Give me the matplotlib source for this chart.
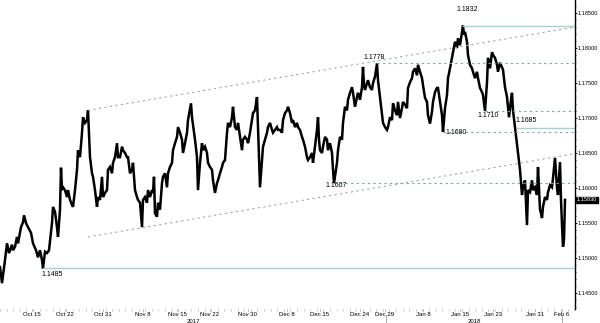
import matplotlib
matplotlib.use("Agg")
import matplotlib.pyplot as plt
from matplotlib.ticker import FixedLocator, MultipleLocator, FormatStrFormatter

plt.rcParams['font.family'] = ['Liberation Sans', 'DejaVu Sans']

# bar number -> price
bars = [0, 2, 5, 7, 9, 12, 13, 15, 17, 18, 21, 23, 24, 26, 28, 31, 33, 36, 38, 40, 42, 43, 45, 47, 49,
        52, 53, 55, 57, 58, 60, 61, 62, 63, 65, 67, 68, 70, 72, 73, 75, 77, 78, 80, 82, 83, 85, 87, 88,
        90, 92, 93, 95, 97,
        98, 100, 102, 103, 105, 107, 108, 110, 112, 113, 115, 117, 118, 120, 122, 123, 125, 127, 128,
        130, 132, 133, 135, 137, 138, 140, 142, 143, 145, 147, 148, 150, 152, 153, 154, 155, 157, 158,
        160, 162, 163, 165, 167, 168, 170, 172, 173, 175, 177, 178, 180, 182, 183, 185, 187, 188, 191,
        192, 194, 195, 197, 198,
        200, 202, 203, 205, 207, 208, 210, 212, 213, 215, 217, 218, 220, 222, 223, 225, 227, 228, 230,
        232, 233, 235, 237, 238, 240, 242, 243, 245, 247, 248, 250, 252, 253, 255, 257, 258, 260, 262,
        263, 265, 267, 268, 270, 272, 273, 275, 277, 278, 280, 282, 283, 285, 287, 288, 290, 292, 293,
        295, 297,
        298, 300, 302, 303, 305, 307, 308, 310, 312, 313, 315, 317, 318, 319, 320, 322, 323, 325, 327,
        328, 330, 332, 333, 334, 337, 338, 340, 342, 343, 345, 347, 348, 350, 352, 353, 355, 357, 358,
        360, 362, 363, 364, 365, 367, 368, 370, 372, 373, 375, 377, 378, 380, 382, 383, 385, 387, 388,
        390, 392, 393, 395,
        397, 398, 400, 402, 403, 405, 407, 408, 410, 412, 413, 415, 417, 418, 420, 422, 423, 425, 427,
        428, 430, 432, 433, 435, 437, 438, 440, 442, 443, 445, 447, 448, 450, 452, 453, 455, 457, 458,
        460, 462, 463, 464, 465, 467, 468, 470, 472, 473, 475, 477, 478, 480, 482, 483, 485, 487, 488,
        490, 492, 493, 495, 497, 498,
        500, 503, 505, 507, 508, 509, 511, 512, 513, 515, 517, 518, 520, 522, 523, 525, 527, 528, 530,
        532, 533, 535, 537, 538, 540, 541, 542, 543, 545, 547, 548, 550, 552, 553, 555, 557, 558, 560,
        561, 562, 563, 564, 565]

prices = [1.1487, 1.1464, 1.1497, 1.1521, 1.1507, 1.1519, 1.1511, 1.1516, 1.1530, 1.1521, 1.1544,
          1.1551, 1.1561, 1.1550, 1.1544, 1.1536, 1.1521, 1.1511, 1.1501, 1.1511, 1.1497, 1.1485,
          1.1509, 1.1507, 1.1511, 1.1550, 1.1573, 1.1566, 1.1544, 1.1530, 1.1569, 1.1629, 1.1597,
          1.1601, 1.1597, 1.1587, 1.1597, 1.1583, 1.1576, 1.1573, 1.1597, 1.1626, 1.1654, 1.1644,
          1.1679, 1.1701, 1.1693, 1.1697, 1.1711, 1.1644, 1.1621, 1.1616, 1.1597, 1.1573,
          1.1587, 1.1583, 1.1616, 1.1587, 1.1593, 1.1597, 1.1626, 1.1630, 1.1621, 1.1636, 1.1644,
          1.1664, 1.1644, 1.1644, 1.1659, 1.1654, 1.1650, 1.1644, 1.1644, 1.1621, 1.1626, 1.1636,
          1.1597, 1.1587, 1.1583, 1.1579, 1.1544, 1.1583, 1.1587, 1.1579, 1.1597, 1.1587, 1.1597,
          1.1593, 1.1616, 1.1564, 1.1559, 1.1579, 1.1569, 1.1607, 1.1616, 1.1621, 1.1601, 1.1621,
          1.1630, 1.1636, 1.1654, 1.1664, 1.1673, 1.1687, 1.1679, 1.1669, 1.1650, 1.1664, 1.1679,
          1.1697, 1.1721, 1.1701, 1.1679, 1.1669, 1.1644, 1.1597,
          1.1636, 1.1664, 1.1654, 1.1659, 1.1650, 1.1636, 1.1630, 1.1626, 1.1611, 1.1593, 1.1607,
          1.1611, 1.1621, 1.1630, 1.1636, 1.1640, 1.1679, 1.1693, 1.1687, 1.1701, 1.1716, 1.1687,
          1.1683, 1.1693, 1.1673, 1.1654, 1.1669, 1.1673, 1.1669, 1.1664, 1.1679, 1.1697, 1.1707,
          1.1711, 1.1730, 1.1687, 1.1601, 1.1640, 1.1659, 1.1669, 1.1679, 1.1687, 1.1693, 1.1683,
          1.1679, 1.1683, 1.1687, 1.1683, 1.1683, 1.1679, 1.1697, 1.1707, 1.1711, 1.1716, 1.1707,
          1.1693, 1.1697, 1.1687, 1.1693,
          1.1687, 1.1683, 1.1673, 1.1669, 1.1659, 1.1644, 1.1640, 1.1644, 1.1650, 1.1636, 1.1659,
          1.1683, 1.1701, 1.1669, 1.1654, 1.1650, 1.1659, 1.1673, 1.1669, 1.1654, 1.1664, 1.1650,
          1.1626, 1.1607, 1.1636, 1.1654, 1.1673, 1.1669, 1.1693, 1.1716, 1.1711, 1.1726, 1.1736,
          1.1744, 1.1736, 1.1716, 1.1730, 1.1736, 1.1726, 1.1744, 1.1773, 1.1747, 1.1740, 1.1750,
          1.1754, 1.1744, 1.1740, 1.1750, 1.1759, 1.1778, 1.1754, 1.1730, 1.1707, 1.1693, 1.1687,
          1.1683, 1.1687, 1.1701, 1.1697, 1.1721, 1.1711,
          1.1704, 1.1723, 1.1700, 1.1714, 1.1723, 1.1719, 1.1714, 1.1743, 1.1751, 1.1757, 1.1766,
          1.1771, 1.1761, 1.1776, 1.1766, 1.1757, 1.1747, 1.1729, 1.1723, 1.1704, 1.1692, 1.1709,
          1.1723, 1.1737, 1.1743, 1.1743, 1.1723, 1.1704, 1.1680, 1.1714, 1.1733, 1.1757, 1.1771,
          1.1786, 1.1794, 1.1809, 1.1800, 1.1814, 1.1804, 1.1823, 1.1832, 1.1819, 1.1823, 1.1809,
          1.1790, 1.1776, 1.1771, 1.1766, 1.1757, 1.1766, 1.1757, 1.1743, 1.1737, 1.1733, 1.1710,
          1.1751, 1.1786, 1.1771, 1.1794, 1.1790, 1.1786, 1.1776, 1.1766,
          1.1779, 1.1769, 1.1744, 1.1730, 1.1716, 1.1701, 1.1726, 1.1736, 1.1711, 1.1687, 1.1664,
          1.1650, 1.1626, 1.1590, 1.1601, 1.1611, 1.1547, 1.1597, 1.1594, 1.1611, 1.1597, 1.1601,
          1.1590, 1.1630, 1.1569, 1.1564, 1.1557, 1.1573, 1.1587, 1.1583, 1.1594, 1.1604, 1.1601,
          1.1614, 1.1643, 1.1600, 1.1590, 1.1637, 1.1583, 1.1547, 1.1516, 1.1526, 1.1583]

last_price = 1.1583

# support / resistance levels: (price, start bar, style)
level_prices = [1.1832, 1.1778, 1.1710, 1.1680, 1.1685, 1.1607, 1.1485]
level_starts = [463, 377, 485, 443, 517, 334, 43]
level_solid = [True, False, False, False, True, False, True]

# channel lines (start bar/price, end bar/price)
chan_x = [88, 575]
chan_upper = [1.1711, 1.1830]
chan_lower = [1.1530, 1.1649]

tick_bars = [32, 65, 103, 143, 177, 210, 248, 287, 320, 360, 385, 423, 460, 493, 535, 562]
tick_labels = ['Oct 15', 'Oct 22', 'Oct 31', 'Nov 8', 'Nov 15', 'Nov 22', 'Nov 30', 'Dec 8',
               'Dec 15', 'Dec 24', 'Dec 29', 'Jan 8', 'Jan 15', 'Jan 23', 'Jan 31', 'Feb 6']

solid_col = '#a3d4ca'
dash_col = '#7fa59e'

fig = plt.figure(figsize=(6, 3.23), dpi=100)
ax = fig.add_axes([0, 14 / 323, 575 / 600, 309 / 323])

ax.plot(bars, prices, color='black', lw=1.8, solid_joinstyle='miter')

for p, s, solid in zip(level_prices, level_starts, level_solid):
    if solid:
        ax.plot([s, 575], [p, p], color=solid_col, lw=1.0)
    else:
        ax.plot([s, 575], [p, p], color=dash_col, lw=0.8, dashes=(2, 3))

ax.plot(chan_x, chan_upper, color='#9aaaa8', lw=0.8, dashes=(2, 3))
ax.plot(chan_x, chan_lower, color='#9aaaa8', lw=0.8, dashes=(2, 3))

fs = 5
ax.text(467, 1.1855, '1.1832', fontsize=fs, ha='center', va='center')
ax.text(374, 1.1786, '1.1778', fontsize=fs, ha='center', va='center')
ax.text(488, 1.1703, '1.1710', fontsize=fs, ha='center', va='center')
ax.text(526, 1.1696, '1.1685', fontsize=fs, ha='center', va='center')
ax.text(456, 1.1679, '1.1680', fontsize=fs, ha='center', va='center')
ax.text(336, 1.1603, '1.1607', fontsize=fs, ha='center', va='center')
ax.text(52, 1.1476, '1.1485', fontsize=fs, ha='center', va='center')

ax.set_xlim(0, 575)
ax.set_ylim(1.14271, 1.18686)

for side in ['top', 'left', 'bottom']:
    ax.spines[side].set_visible(False)
ax.spines['right'].set_color('black')
ax.spines['right'].set_linewidth(1.0)

ax.yaxis.tick_right()
ax.yaxis.set_major_locator(MultipleLocator(0.005))
ax.yaxis.set_minor_locator(MultipleLocator(0.001))
ax.yaxis.set_major_formatter(FormatStrFormatter('%.5f'))
ax.tick_params(axis='y', which='major', labelsize=4.1, length=1.5, width=0.6, pad=0.5)
ax.tick_params(axis='y', which='minor', length=1.0, width=0.5)

ax.xaxis.set_major_locator(FixedLocator(tick_bars))
ax.set_xticklabels(tick_labels)
ax.xaxis.set_minor_locator(MultipleLocator(6.6))
ax.tick_params(axis='x', which='major', labelsize=4.3, length=1.5, width=0.5, color='#888888', pad=0.6)
ax.tick_params(axis='x', which='minor', length=1.2, width=0.5, color='#aaaaaa')

xt = ax.get_xaxis_transform()
ax.text(193, -0.044, '2017', fontsize=4.3, ha='center', va='baseline', transform=xt)
ax.text(474, -0.044, '2018', fontsize=4.3, ha='center', va='baseline', transform=xt)
for b in [386, 562]:
    ax.plot([b, b], [-0.018, -0.05], color='#999999', lw=0.6, transform=xt, clip_on=False)

ax.text(1.003, last_price, '1.15830', transform=ax.get_yaxis_transform(), fontsize=4.1,
        color='white', va='center', ha='left',
        bbox=dict(facecolor='black', edgecolor='black', boxstyle='square,pad=0.12'))

fig.savefig('out.png', dpi=100)
